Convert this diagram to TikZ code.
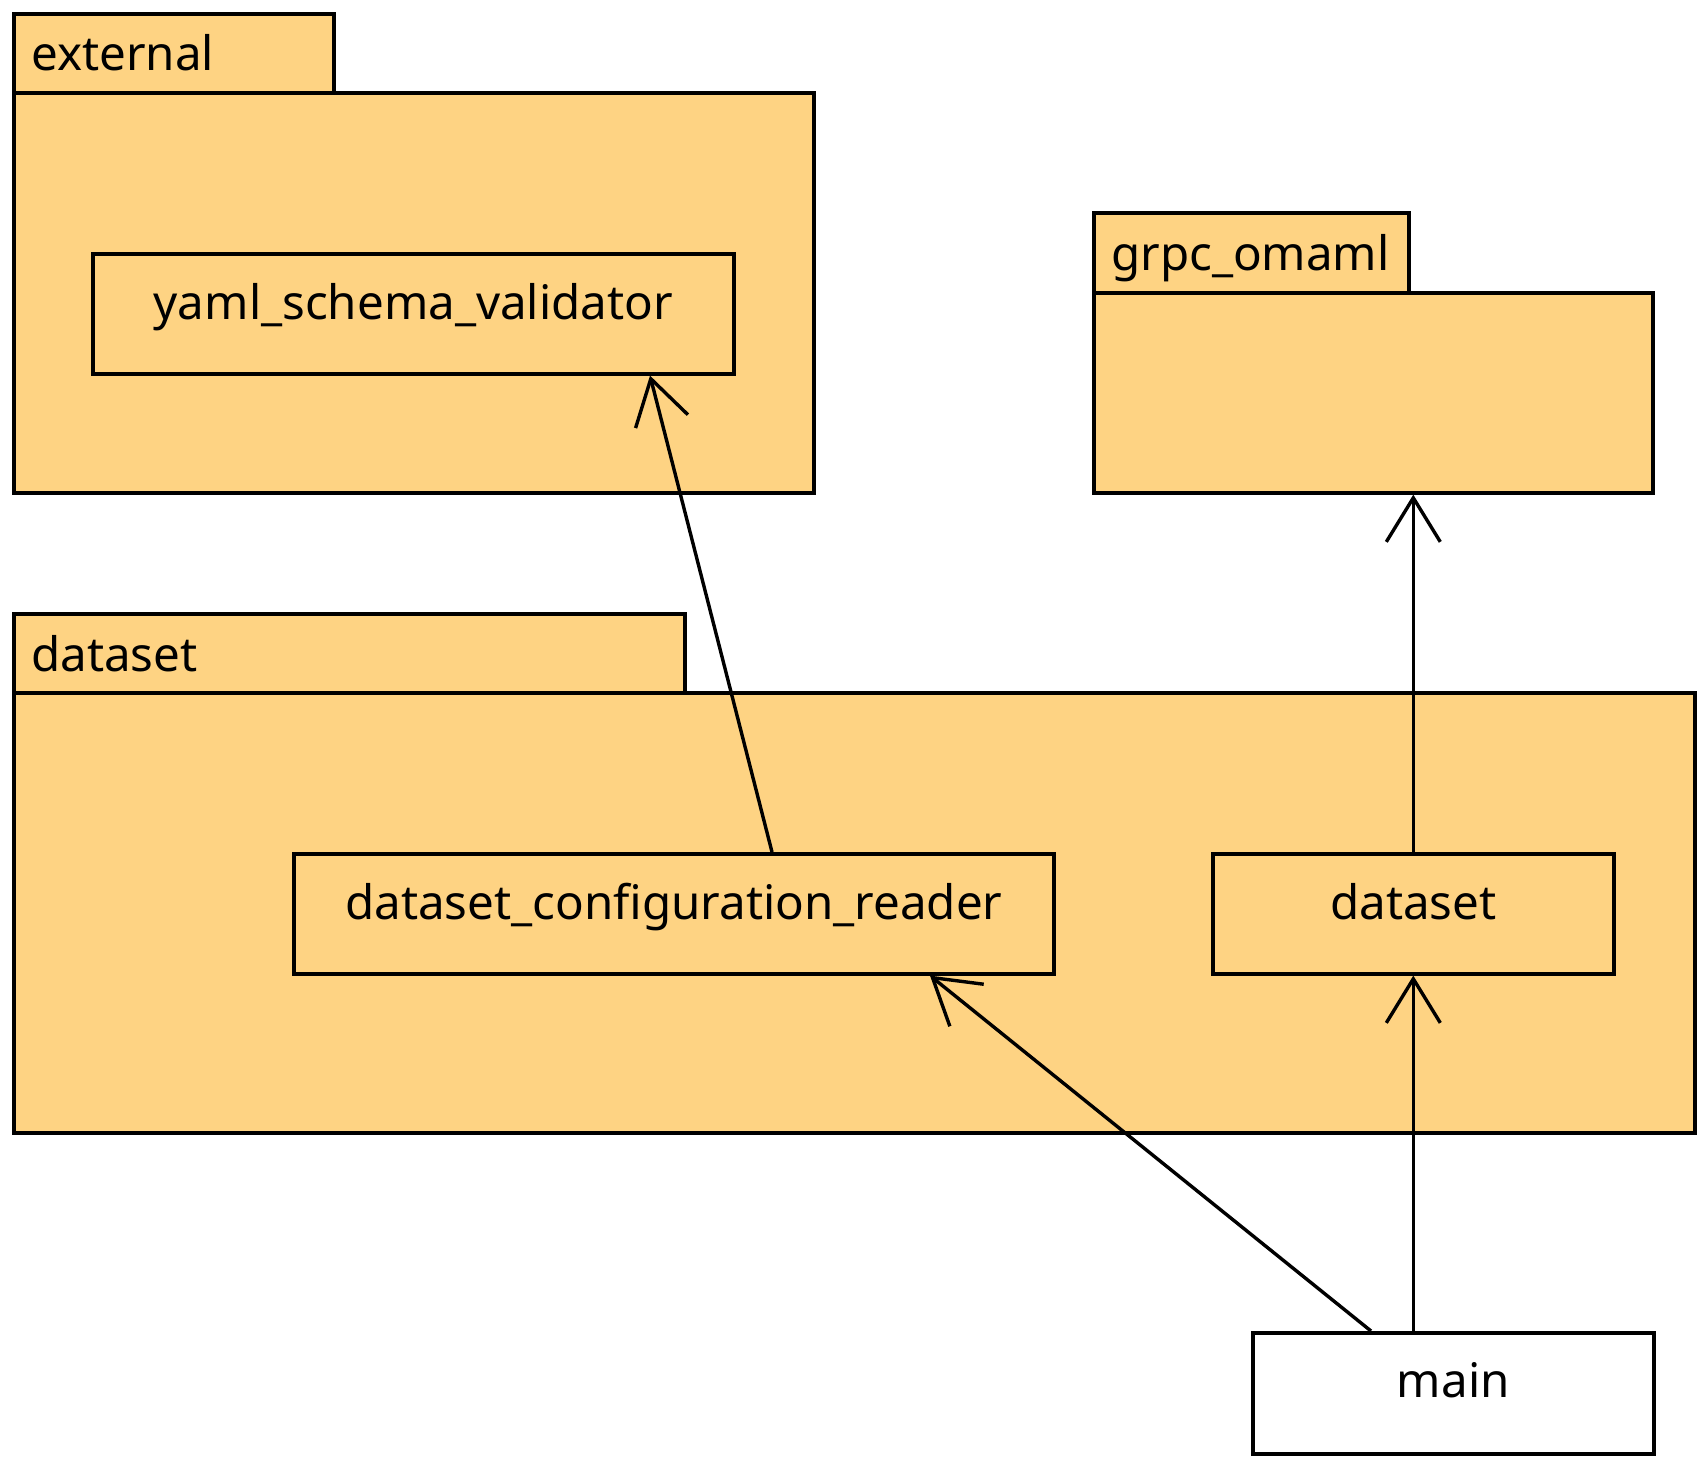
\documentclass[tikz,border=0pt]{standalone}
\usepackage{fontspec}
\setmainfont{Noto Sans}
\usetikzlibrary{arrows.meta,positioning,calc}
\definecolor{pkgfill}{HTML}{FED383}

\begin{document}
\begin{tikzpicture}[x=1pt,y=-1pt,
    box/.style={draw, line width=3.6pt, inner sep=0pt, anchor=north west},
    pkg/.style={box, fill=pkgfill},
    label/.style={font=\fontsize{47.5}{55}\selectfont, inner sep=0pt},
    dep/.style={line width=3.4pt, -{Straight Barb[length=44pt,width=54pt,line width=3.4pt]}}]
    \useasboundingbox (0,0) rectangle (1700,1460);

    % Package external
    \node[pkg, minimum width=320pt, minimum height=79pt] (exttab) at (12,12) {};
    \node[pkg, minimum width=800pt, minimum height=400pt] (ext) at (12,91) {};
    \node[label, anchor=base west] at (31,70) {external};

    % Package grpc_omaml
    \node[pkg, minimum width=315pt, minimum height=80pt] (grpctab) at (1092,211) {};
    \node[pkg, minimum width=559pt, minimum height=200pt] (grpc) at (1092,291) {};
    \node[label, anchor=base west] at (1111,270) {grpc\_omaml};

    % Package dataset
    \node[pkg, minimum width=671pt, minimum height=79pt] (dstab) at (12,612) {};
    \node[pkg, minimum width=1681pt, minimum height=440pt] (dspkg) at (12,691) {};
    \node[label, anchor=base west] at (31,671) {dataset};

    % Modules
    \node[box, minimum width=641pt, minimum height=120pt] (yaml) at (91,252) {};
    \node[label, anchor=base] at ($(yaml.north)+(0,67)$) {yaml\_schema\_validator};
    \node[box, minimum width=760pt, minimum height=120pt] (reader) at (292,852) {};
    \node[label, anchor=base] at ($(reader.north)+(0,67)$) {dataset\_configuration\_reader};
    \node[box, minimum width=401pt, minimum height=120pt] (ds) at (1211,852) {};
    \node[label, anchor=base] at ($(ds.north)+(0,67)$) {dataset};
    \node[box, fill=white, minimum width=401pt, minimum height=121pt] (main) at (1251,1331) {};
    \node[label, anchor=base] at ($(main.north)+(0,66)$) {main};

    % Dependencies
    \draw[dep] ([xshift=480pt]reader.north west) -- ([xshift=559pt]yaml.south west);
    \draw[dep] (ds.north) -- (ds.north |- grpc.south);
    \draw[dep] ([xshift=120pt]main.north west) -- ([xshift=638pt]reader.south west);
    \draw[dep] (ds.south |- main.north) -- (ds.south);
\end{tikzpicture}
\end{document}
